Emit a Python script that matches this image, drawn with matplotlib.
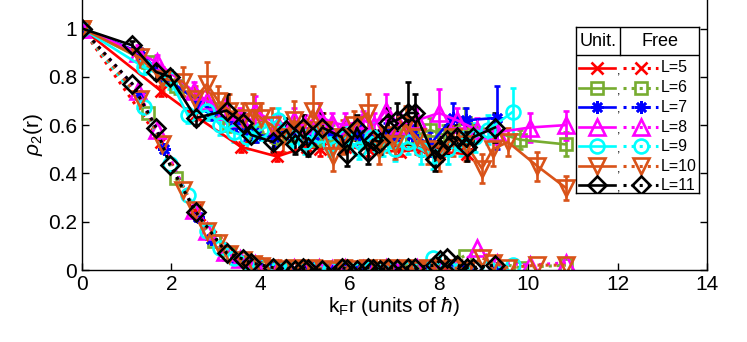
import matplotlib
matplotlib.use('Agg')
import matplotlib.pyplot as plt

plt.rcParams['font.family'] = ['Liberation Sans', 'DejaVu Sans']
plt.rcParams['mathtext.fontset'] = 'custom'
plt.rcParams['mathtext.rm'] = 'Liberation Sans'
plt.rcParams['mathtext.it'] = 'Liberation Sans:italic'

# k_F r positions and rho_2 values for each system size L
x5 = [0, 1.78, 2.52, 3.56, 4.37, 5.03, 5.34, 5.90, 6.40, 7.12, 7.60, 8.00, 8.62]
u5 = [1.00, 0.74, 0.64, 0.51, 0.47, 0.51, 0.50, 0.51, 0.50, 0.49, 0.50, 0.49, 0.48]
e5 = [0, 0.02, 0.02, 0.02, 0.02, 0.02, 0.03, 0.02, 0.03, 0.02, 0.03, 0.02, 0.02]
f5 = [1.00, 0.53, 0.25, 0.045, 0.01, 0.005, 0.005, 0.01, 0.005, 0.00, 0.01, 0.005, 0.01]

x6 = [0, 1.48, 2.10, 2.96, 3.30, 3.90, 4.40, 4.70, 5.20, 5.60, 5.90, 6.30, 6.60, 7.00, 7.40, 7.80, 8.10, 8.58, 9.80, 10.84]
u6 = [1.00, 0.86, 0.76, 0.66, 0.60, 0.57, 0.55, 0.56, 0.54, 0.56, 0.53, 0.55, 0.54, 0.56, 0.55, 0.58, 0.56, 0.61, 0.54, 0.52]
e6 = [0, 0.02, 0.03, 0.03, 0.03, 0.04, 0.03, 0.04, 0.03, 0.04, 0.03, 0.04, 0.03, 0.04, 0.04, 0.05, 0.04, 0.06, 0.04, 0.05]
f6 = [1.00, 0.65, 0.38, 0.12, 0.065, 0.025, 0.005, 0.01, 0.00, 0.01, 0.005, 0.00, 0.01, 0.005, 0.01, 0.00, 0.01, 0.06, 0.01, 0.02]

x7 = [0, 1.30, 1.84, 2.60, 2.90, 3.45, 3.68, 3.90, 4.30, 4.60, 5.00, 5.20, 5.50, 5.80, 6.20, 6.50, 6.80, 7.00, 7.40, 7.80, 8.30, 8.60, 9.30]
u7 = [1.00, 0.90, 0.80, 0.70, 0.66, 0.60, 0.58, 0.56, 0.55, 0.57, 0.55, 0.56, 0.57, 0.55, 0.56, 0.54, 0.57, 0.55, 0.56, 0.52, 0.63, 0.62, 0.63]
e7 = [0, 0.02, 0.03, 0.03, 0.04, 0.03, 0.04, 0.03, 0.04, 0.03, 0.04, 0.04, 0.03, 0.04, 0.04, 0.03, 0.04, 0.05, 0.04, 0.05, 0.06, 0.05, 0.13]
f7 = [1.00, 0.72, 0.50, 0.22, 0.13, 0.05, 0.035, 0.025, 0.01, 0.005, 0.00, 0.01, 0.005, 0.01, 0.00, 0.01, 0.005, 0.01, 0.00, 0.01, 0.01, 0.005, 0.01]

x8 = [0, 1.25, 1.68, 2.50, 2.80, 3.20, 3.54, 3.87, 4.40, 4.75, 5.00, 5.30, 5.60, 5.90, 6.30, 6.55, 6.80, 7.10, 7.50, 8.00, 8.40, 8.85, 9.30, 10.03, 10.84]
u8 = [1.00, 0.90, 0.86, 0.74, 0.70, 0.66, 0.63, 0.66, 0.60, 0.62, 0.60, 0.64, 0.61, 0.60, 0.62, 0.60, 0.66, 0.60, 0.62, 0.65, 0.62, 0.58, 0.57, 0.59, 0.60]
e8 = [0, 0.03, 0.03, 0.04, 0.04, 0.05, 0.04, 0.06, 0.04, 0.05, 0.04, 0.05, 0.04, 0.05, 0.04, 0.05, 0.07, 0.05, 0.05, 0.10, 0.05, 0.05, 0.05, 0.06, 0.06]
f8 = [1.00, 0.74, 0.58, 0.25, 0.16, 0.075, 0.045, 0.025, 0.005, 0.01, 0.00, 0.01, 0.005, 0.01, 0.005, 0.00, 0.01, 0.005, 0.01, 0.01, 0.005, 0.09, 0.03, 0.02, 0.03]

x9 = [0, 1.38, 1.97, 2.37, 2.80, 3.10, 3.40, 3.70, 4.00, 4.40, 4.70, 5.00, 5.30, 5.55, 5.90, 6.20, 6.50, 6.75, 7.00, 7.30, 7.60, 7.87, 8.20, 8.50, 8.80, 9.10, 9.65]
u9 = [1.00, 0.84, 0.79, 0.64, 0.66, 0.60, 0.57, 0.55, 0.58, 0.62, 0.55, 0.53, 0.56, 0.52, 0.55, 0.50, 0.55, 0.52, 0.50, 0.53, 0.50, 0.47, 0.50, 0.52, 0.55, 0.58, 0.655]
e9 = [0, 0.03, 0.04, 0.03, 0.04, 0.04, 0.04, 0.05, 0.04, 0.05, 0.04, 0.05, 0.04, 0.05, 0.05, 0.04, 0.06, 0.05, 0.05, 0.05, 0.06, 0.05, 0.06, 0.05, 0.06, 0.06, 0.10]
f9 = [1.00, 0.675, 0.44, 0.31, 0.16, 0.09, 0.05, 0.035, 0.018, 0.005, 0.01, 0.00, 0.01, 0.005, 0.01, 0.00, 0.01, 0.005, 0.01, 0.005, 0.01, 0.05, 0.01, 0.005, 0.01, 0.01, 0.02]

x10 = [0, 1.30, 1.79, 2.27, 2.53, 2.80, 3.05, 3.30, 3.60, 3.83, 4.00, 4.25, 4.50, 4.75, 4.95, 5.17, 5.40, 5.62, 5.85, 6.10, 6.40, 6.65, 6.85, 7.00, 7.25, 7.50, 7.75, 8.00, 8.30, 8.60, 8.96, 9.20, 9.54, 10.20, 10.84]
u10 = [1.00, 0.88, 0.79, 0.78, 0.71, 0.77, 0.70, 0.66, 0.63, 0.66, 0.63, 0.60, 0.55, 0.62, 0.58, 0.66, 0.58, 0.47, 0.55, 0.60, 0.65, 0.50, 0.56, 0.52, 0.60, 0.55, 0.50, 0.48, 0.55, 0.52, 0.42, 0.50, 0.53, 0.43, 0.34]
e10 = [0, 0.04, 0.05, 0.06, 0.05, 0.09, 0.06, 0.07, 0.06, 0.07, 0.06, 0.07, 0.06, 0.08, 0.06, 0.10, 0.07, 0.06, 0.07, 0.06, 0.08, 0.06, 0.07, 0.06, 0.08, 0.07, 0.06, 0.07, 0.08, 0.07, 0.06, 0.07, 0.06, 0.06, 0.05]
f10 = [1.00, 0.71, 0.52, 0.33, 0.25, 0.16, 0.11, 0.065, 0.04, 0.025, 0.018, 0.01, 0.005, 0.01, 0.00, 0.01, 0.005, 0.00, 0.01, 0.005, 0.01, 0.00, 0.01, 0.005, 0.01, 0.00, 0.01, 0.005, 0.01, 0.00, 0.05, 0.03, 0.01, 0.02, 0.02]

x11 = [0, 1.13, 1.66, 1.97, 2.55, 3.24, 3.61, 3.78, 4.28, 4.58, 4.77, 4.95, 5.06, 5.38, 5.82, 5.93, 6.16, 6.41, 6.52, 6.67, 6.85, 7.05, 7.30, 7.46, 7.91, 8.02, 8.17, 8.40, 8.62, 8.76, 9.25]
u11 = [1.00, 0.93, 0.82, 0.80, 0.63, 0.66, 0.61, 0.56, 0.53, 0.58, 0.52, 0.59, 0.51, 0.59, 0.55, 0.48, 0.59, 0.49, 0.54, 0.53, 0.61, 0.62, 0.65, 0.65, 0.46, 0.50, 0.54, 0.55, 0.51, 0.55, 0.59]
e11 = [0, 0.02, 0.03, 0.03, 0.03, 0.07, 0.04, 0.03, 0.04, 0.05, 0.04, 0.05, 0.04, 0.06, 0.04, 0.05, 0.05, 0.05, 0.04, 0.05, 0.06, 0.07, 0.13, 0.08, 0.05, 0.05, 0.06, 0.05, 0.06, 0.05, 0.06]
f11 = [1.00, 0.77, 0.59, 0.435, 0.24, 0.07, 0.045, 0.03, 0.01, 0.005, 0.00, 0.01, 0.005, 0.00, 0.01, 0.005, 0.00, 0.01, 0.005, 0.00, 0.01, 0.005, 0.01, 0.01, 0.02, 0.04, 0.05, 0.02, 0.01, 0.01, 0.02]

sizes = [5, 6, 7, 8, 9, 10, 11]
xs = [x5, x6, x7, x8, x9, x10, x11]
units = [u5, u6, u7, u8, u9, u10, u11]
errs = [e5, e6, e7, e8, e9, e10, e11]
frees = [f5, f6, f7, f8, f9, f10, f11]

colors = ['#ff0000', '#77ac30', '#0000ff', '#ff00ff', '#00ffff', '#d95319', '#000000']
# MATLAB-like markers; (8, 2, 0) is an eight-spoke asterisk
markers = ['x', 's', (8, 2, 0), '^', 'o', 'v', 'D']
msizes = [8, 8, 9, 11, 10, 11, 9.5]

fig = plt.figure(figsize=(7.47, 3.42), dpi=100)
ax = fig.add_axes([82 / 747, 1 - 270 / 342, 625 / 747, 270 / 342])

for x, u, e, f, c, m, ms in zip(xs, units, errs, frees, colors, markers, msizes):
    ax.errorbar(x, u, yerr=e, color=c, marker=m, ms=ms, mfc='none', mew=1.9,
                lw=1.9, elinewidth=1.9, capsize=2.5, capthick=1.9)
    ax.plot(x, f, color=c, ls=':', lw=2.2, marker=m, ms=ms, mfc='none', mew=1.9)

ax.set_xlim(0, 14)
ax.set_ylim(0, 270 / 241.5)
ax.set_xticks(range(0, 15, 2))
ax.set_yticks([0, 0.2, 0.4, 0.6, 0.8, 1])
ax.set_yticklabels(['0', '0.2', '0.4', '0.6', '0.8', '1'])
ax.tick_params(direction='in', labelsize=15, length=5, width=1, right=True)
ax.spines['top'].set_visible(False)
for s in ['left', 'bottom', 'right']:
    ax.spines[s].set_linewidth(1)
ax.set_xlabel(r'k$_{\rm F}$r (units of $\hbar$)', fontsize=15, labelpad=1)
ax.set_ylabel(r'$\rho_2$(r)', fontsize=15, labelpad=2)

# table-style legend
lg = fig.add_axes([576 / 747, 1 - 193 / 342, 123 / 747, 166 / 342])
lg.set_xlim(0, 123)
lg.set_ylim(166, 0)
lg.set_xticks([])
lg.set_yticks([])
lg.set_facecolor('white')
for s in lg.spines.values():
    s.set_linewidth(1)
lg.axhline(28, color='black', lw=1)
lg.plot([44, 44], [0, 28], color='black', lw=1)
lg.text(22, 15, 'Unit.', ha='center', va='center', fontsize=13)
lg.text(84, 15, 'Free', ha='center', va='center', fontsize=13)
rows = [41, 61, 80, 100, 119, 139, 158]
for ry, L, c, m, ms in zip(rows, sizes, colors, markers, msizes):
    lg.plot([3, 39], [ry, ry], color=c, lw=1.9)
    lg.plot([21], [ry], color=c, marker=m, ms=ms, mfc='none', mew=1.9)
    lg.text(43, ry + 3, ',', ha='center', va='center', fontsize=9)
    lg.plot([47, 82], [ry, ry], color=c, ls=':', lw=2.2)
    lg.plot([65], [ry], color=c, marker=m, ms=ms, mfc='none', mew=1.9)
    lg.text(85, ry, 'L=%d' % L, ha='left', va='center', fontsize=11.5)

fig.savefig('out.png', dpi=100)
